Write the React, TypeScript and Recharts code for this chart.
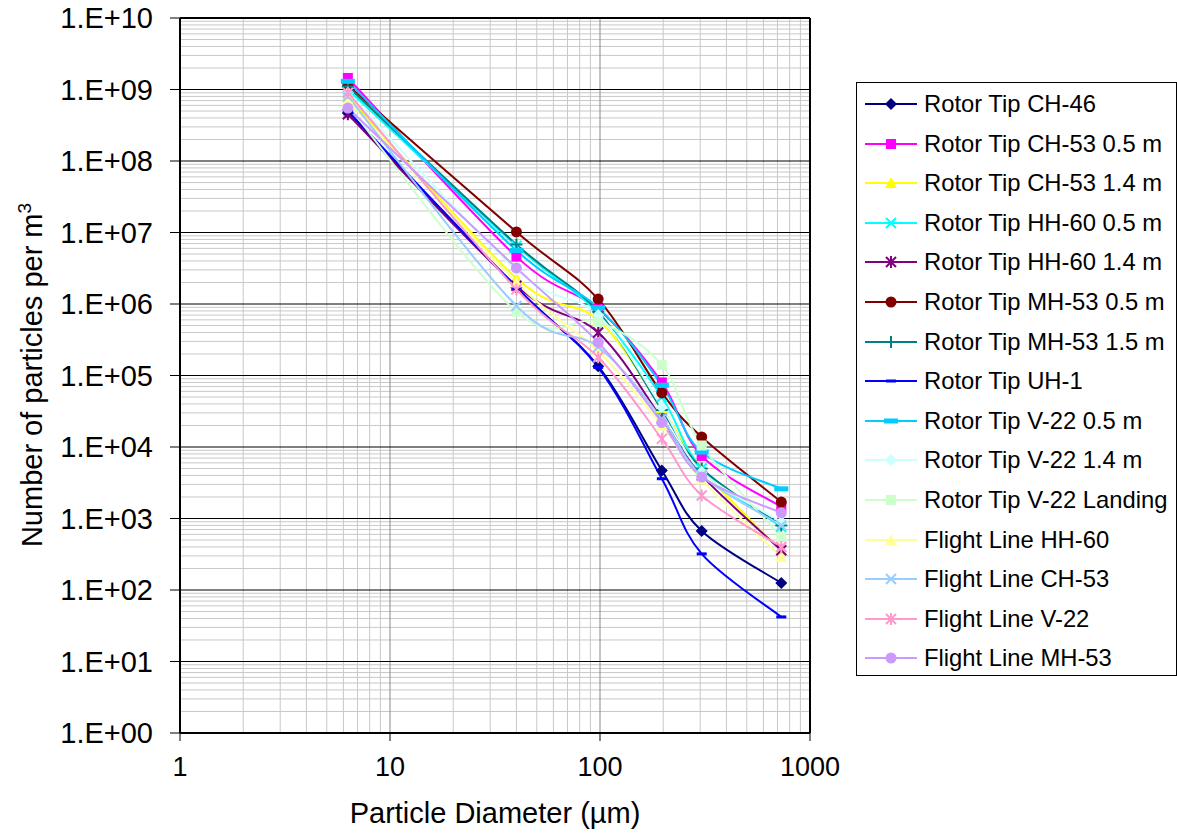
import { LineChart, Line, XAxis, YAxis, ReferenceLine, Label } from 'recharts';

// particle diameters (µm) where every series was sampled
const diameters = [6.3, 40, 98, 197, 305, 730];

// particles per m3
const rotorCH46 = [4.7e8, 1.7e6, 1.35e5, 4.7e3, 670, 125];
const rotorCH53Low = [1.45e9, 4.6e6, 8.5e5, 8.0e4, 7.5e3, 1.45e3];
const rotorCH53High = [8.0e8, 2.3e6, 6.0e5, 3.5e4, 5.0e3, 350];
const rotorHH60Low = [1.0e9, 6.5e6, 7.5e5, 5.0e4, 5.0e3, 760];
const rotorHH60High = [4.5e8, 1.8e6, 4.0e5, 2.5e4, 4.0e3, 360];
const rotorMH53Low = [1.15e9, 1.02e7, 1.17e6, 5.7e4, 1.38e4, 1.7e3];
const rotorMH53High = [1.1e9, 6.8e6, 7.8e5, 3.3e4, 5.0e3, 800];
const rotorUH1 = [5.0e8, 1.7e6, 1.3e5, 3.6e3, 320, 42];
const rotorV22Low = [1.3e9, 5.6e6, 8.9e5, 7.3e4, 8.5e3, 2.6e3];
const rotorV22High = [9.0e8, 3.0e6, 7.0e5, 3.6e4, 4.5e3, 900];
const rotorV22Landing = [6.0e8, 7.8e5, 5.6e5, 1.4e5, 1.05e4, 550];
const lineHH60 = [7.0e8, 2.0e6, 2.2e5, 2.0e4, 3.5e3, 290];
const lineCH53 = [8.0e8, 9.4e5, 2.5e5, 2.5e4, 4.0e3, 800];
const lineV22 = [9.0e8, 1.6e6, 1.8e5, 1.3e4, 2.1e3, 400];
const lineMH53 = [5.5e8, 3.2e6, 2.9e5, 2.2e4, 3.8e3, 1.2e3];

const xTicks = [1, 10, 100, 1000];
const yTicks = [1, 10, 1e2, 1e3, 1e4, 1e5, 1e6, 1e7, 1e8, 1e9, 1e10];

const series = [
  { name: 'Rotor Tip CH-46', values: rotorCH46, color: '#000080', shape: 'diamond' },
  { name: 'Rotor Tip CH-53 0.5 m', values: rotorCH53Low, color: '#ff00ff', shape: 'square' },
  { name: 'Rotor Tip CH-53 1.4 m', values: rotorCH53High, color: '#ffff00', shape: 'triangle' },
  { name: 'Rotor Tip HH-60 0.5 m', values: rotorHH60Low, color: '#00ffff', shape: 'x' },
  { name: 'Rotor Tip HH-60 1.4 m', values: rotorHH60High, color: '#800080', shape: 'star' },
  { name: 'Rotor Tip MH-53 0.5 m', values: rotorMH53Low, color: '#800000', shape: 'circle' },
  { name: 'Rotor Tip MH-53 1.5 m', values: rotorMH53High, color: '#008080', shape: 'plus' },
  { name: 'Rotor Tip UH-1', values: rotorUH1, color: '#0000ff', shape: 'dash' },
  { name: 'Rotor Tip V-22 0.5 m', values: rotorV22Low, color: '#00ccff', shape: 'wdash' },
  { name: 'Rotor Tip V-22 1.4 m', values: rotorV22High, color: '#ccffff', shape: 'diamond' },
  { name: 'Rotor Tip V-22 Landing', values: rotorV22Landing, color: '#ccffcc', shape: 'square' },
  { name: 'Flight Line HH-60', values: lineHH60, color: '#ffff99', shape: 'triangle' },
  { name: 'Flight Line CH-53', values: lineCH53, color: '#99ccff', shape: 'x' },
  { name: 'Flight Line V-22', values: lineV22, color: '#ff99cc', shape: 'star' },
  { name: 'Flight Line MH-53', values: lineMH53, color: '#cc99ff', shape: 'circle' },
];

const rows = diameters.map((d, i) => {
  const row: Record<string, number> = { x: d };
  series.forEach((s, k) => {
    row['s' + k] = s.values[i];
  });
  return row;
});

// log gridlines
const minorY: number[] = [];
for (let e = 0; e < 10; e++) for (let m = 2; m < 10; m++) minorY.push(m * Math.pow(10, e));
const minorX: number[] = [];
for (let e = 0; e < 3; e++) for (let m = 2; m < 10; m++) minorX.push(m * Math.pow(10, e));

const FONT = '"Liberation Sans", Arial, sans-serif';

// spreadsheet-style smoothing (catmull-rom through the points), as a d3 curve factory
function smoothCurve(context: any) {
  let pts: number[][] = [];
  return {
    areaStart() {},
    areaEnd() {},
    lineStart() {
      pts = [];
    },
    point(x: number, y: number) {
      pts.push([+x, +y]);
    },
    lineEnd() {
      const n = pts.length;
      if (!n) return;
      context.moveTo(pts[0][0], pts[0][1]);
      for (let i = 0; i < n - 1; i++) {
        const p0 = pts[Math.max(i - 1, 0)];
        const p1 = pts[i];
        const p2 = pts[i + 1];
        const p3 = pts[Math.min(i + 2, n - 1)];
        context.bezierCurveTo(
          p1[0] + (p2[0] - p0[0]) / 6,
          p1[1] + (p2[1] - p0[1]) / 6,
          p2[0] - (p3[0] - p1[0]) / 6,
          p2[1] - (p3[1] - p1[1]) / 6,
          p2[0],
          p2[1]
        );
      }
    },
  };
}

function Marker({ shape, color, cx, cy }: { shape: string; color: string; cx: number; cy: number }) {
  switch (shape) {
    case 'diamond':
      return <polygon points={`${cx},${cy - 6} ${cx + 6},${cy} ${cx},${cy + 6} ${cx - 6},${cy}`} fill={color} />;
    case 'square':
      return <rect x={cx - 5} y={cy - 5} width={10} height={10} fill={color} />;
    case 'triangle':
      return <polygon points={`${cx},${cy - 6} ${cx + 6},${cy + 5} ${cx - 6},${cy + 5}`} fill={color} />;
    case 'x':
      return (
        <path d={`M${cx - 5},${cy - 5}L${cx + 5},${cy + 5}M${cx + 5},${cy - 5}L${cx - 5},${cy + 5}`} stroke={color} strokeWidth={2} />
      );
    case 'star':
      return (
        <path
          d={`M${cx - 5},${cy - 5}L${cx + 5},${cy + 5}M${cx + 5},${cy - 5}L${cx - 5},${cy + 5}M${cx},${cy - 6}L${cx},${cy + 6}`}
          stroke={color}
          strokeWidth={2}
        />
      );
    case 'circle':
      return <circle cx={cx} cy={cy} r={5.5} fill={color} />;
    case 'plus':
      return <path d={`M${cx - 6},${cy}L${cx + 6},${cy}M${cx},${cy - 6}L${cx},${cy + 6}`} stroke={color} strokeWidth={2} />;
    case 'dash':
      return <rect x={cx - 5} y={cy - 1.5} width={10} height={3} fill={color} />;
    case 'wdash':
      return <rect x={cx - 7} y={cy - 2.5} width={14} height={5} fill={color} />;
    default:
      return null;
  }
}

const fmtY = (v: number) => {
  const e = Math.round(Math.log10(v));
  return '1.E+' + (e < 10 ? '0' + e : String(e));
};

function LegendBox() {
  return (
    <div
      style={{
        position: 'absolute',
        left: 856,
        top: 82,
        width: 319,
        height: 592,
        border: '1px solid #000',
        background: '#fff',
        fontFamily: FONT,
        fontSize: 23.8,
        color: '#000',
      }}
    >
      {series.map((s, i) => (
        <div key={s.name} style={{ position: 'absolute', left: 0, top: 1 + i * 39.6, height: 40, display: 'flex', alignItems: 'center' }}>
          <svg width={60} height={40} style={{ marginLeft: 8 }}>
            <line x1={0} y1={20} x2={52} y2={20} stroke={s.color} strokeWidth={2} />
            <Marker shape={s.shape} color={s.color} cx={26} cy={20} />
          </svg>
          <span style={{ whiteSpace: 'nowrap', marginLeft: -1 }}>{s.name}</span>
        </div>
      ))}
    </div>
  );
}

export default function App() {
  return (
    <div style={{ position: 'absolute', left: 0, top: 0, width: 1177, height: 833, background: '#fff' }}>
      <LineChart width={1177} height={833} data={rows} margin={{ top: 18, right: 367, bottom: 0, left: 0 }}>
        {minorY.map((v) => (
          <ReferenceLine key={'my' + v} y={v} stroke="#c8c8c8" strokeWidth={1} />
        ))}
        {minorX.map((v) => (
          <ReferenceLine key={'mx' + v} x={v} stroke="#c8c8c8" strokeWidth={1} />
        ))}
        {[10, 100].map((v) => (
          <ReferenceLine key={'Mx' + v} x={v} stroke="#888" strokeWidth={1} />
        ))}
        {yTicks.slice(1, -1).map((v) => (
          <ReferenceLine key={'My' + v} y={v} stroke="#000" strokeWidth={1} />
        ))}
        <ReferenceLine y={1e10} stroke="#000" strokeWidth={2} />
        <ReferenceLine x={1000} stroke="#000" strokeWidth={2} />
        <XAxis
          dataKey="x"
          type="number"
          scale="log"
          domain={[1, 1000]}
          ticks={xTicks}
          allowDataOverflow
          height={100}
          tickSize={8}
          tickMargin={16}
          axisLine={{ stroke: '#000', strokeWidth: 2 }}
          tickLine={{ stroke: '#000' }}
          tick={{ fill: '#000', fontSize: 27, fontFamily: FONT }}
        >
          <Label
            content={() => (
              <text x={495} y={823} textAnchor="middle" fontSize={29} fontFamily={FONT} fill="#000">
                Particle Diameter (µm)
              </text>
            )}
          />
        </XAxis>
        <YAxis
          type="number"
          scale="log"
          domain={[1, 1e10]}
          ticks={yTicks}
          allowDataOverflow
          width={180}
          tickSize={10}
          tickMargin={17}
          tickFormatter={fmtY}
          axisLine={{ stroke: '#000', strokeWidth: 2 }}
          tickLine={{ stroke: '#000' }}
          tick={{ fill: '#000', fontSize: 29, fontFamily: FONT }}
        >
          <Label
            content={() => (
              <text
                x={42}
                y={375}
                transform="rotate(-90 42 375)"
                textAnchor="middle"
                fontSize={29}
                fontFamily={FONT}
                fill="#000"
              >
                Number of particles per m
                <tspan dy={-11} fontSize={19}>
                  3
                </tspan>
              </text>
            )}
          />
        </YAxis>
        {series.map((s, k) => (
          <Line
            key={s.name}
            dataKey={'s' + k}
            name={s.name}
            type={smoothCurve as any}
            stroke={s.color}
            strokeWidth={2}
            isAnimationActive={false}
            activeDot={false}
            dot={(p: any) => <Marker key={s.name + p.index} shape={s.shape} color={s.color} cx={p.cx} cy={p.cy} />}
          />
        ))}
      </LineChart>
      <LegendBox />
    </div>
  );
}
